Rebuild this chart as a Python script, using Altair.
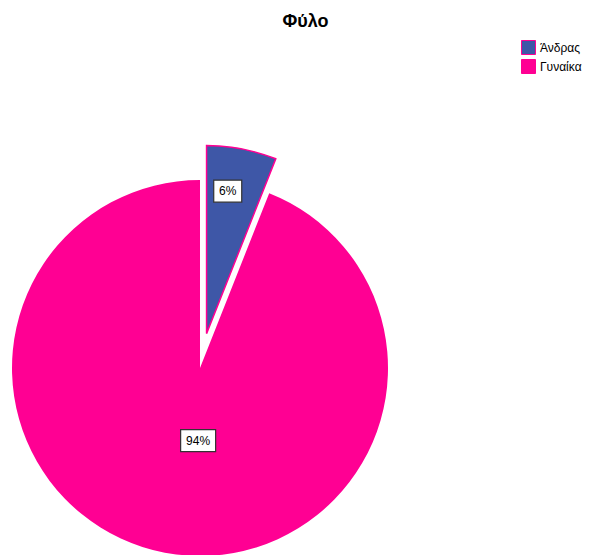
import altair as alt
import pandas as pd

categories = ["Άνδρας", "Γυναίκα"]
values = [6, 94]
order = [0, 1]
colors = ["#3E57A7", "#FF0093"]

df = pd.DataFrame({"cat": categories, "val": values, "ord": order})

CX, CY, R = 192, 333, 188
EXPLODE = 35
FONT = "Liberation Sans"

base = (
    alt.Chart(df)
    .transform_joinaggregate(total="sum(val)")
    .transform_window(cum="sum(val)", sort=[alt.SortField("ord")], frame=[None, 0])
    .transform_calculate(
        start="2*PI*(datum.cum - datum.val)/datum.total",
        end="2*PI*datum.cum/datum.total",
        mid="PI*(2*datum.cum - datum.val)/datum.total",
        pct="format(datum.val/datum.total, '.0%')",
    )
)

color = alt.Color(
    "cat:N",
    scale=alt.Scale(domain=categories, range=colors),
    legend=alt.Legend(
        title=None,
        orient="none",
        legendX=513,
        legendY=5,
        symbolType="square",
        symbolSize=196,
        symbolStrokeColor="#FF0093",
        symbolStrokeWidth=1,
        labelFont=FONT,
        labelFontSize=12,
        labelColor="#000000",
        rowPadding=0,
    ),
)

pink = (
    base.transform_filter(alt.datum.cat == categories[1])
    .mark_arc(outerRadius=R)
    .encode(
        theta=alt.Theta("start:Q", scale=None),
        theta2="end:Q",
        color=color,
        x=alt.value(CX),
        y=alt.value(CY),
    )
)

blue = (
    base.transform_filter(alt.datum.cat == categories[0])
    .transform_calculate(
        px=f"{CX} + {EXPLODE}*sin(datum.mid)",
        py=f"{CY} - {EXPLODE}*cos(datum.mid)",
    )
    .mark_arc(outerRadius=R, stroke="#FF0093", strokeWidth=1.5)
    .encode(
        theta=alt.Theta("start:Q", scale=None),
        theta2="end:Q",
        color=color,
        x=alt.X("px:Q", scale=None, axis=None),
        y=alt.Y("py:Q", scale=None, axis=None),
    )
)


def label_layer(cat, rad, boxw, boxh, explode, xoff):
    ratio = boxh / boxw
    path = f"M-1,-{ratio:.3f}L1,-{ratio:.3f}L1,{ratio:.3f}L-1,{ratio:.3f}Z"
    b = base.transform_filter(alt.datum.cat == cat).transform_calculate(
        lx=f"{CX} + ({explode}+{rad})*sin(datum.mid) + {xoff}",
        ly=f"{CY} - ({explode}+{rad})*cos(datum.mid)",
    )
    enc = dict(
        x=alt.X("lx:Q", scale=None, axis=None),
        y=alt.Y("ly:Q", scale=None, axis=None),
    )
    box = b.mark_point(
        shape=path, size=boxw * boxw, filled=True, fill="white",
        stroke="#333333", strokeWidth=1.2, opacity=1,
    ).encode(**enc)
    txt = b.mark_text(font=FONT, fontSize=12, color="#000000").encode(
        text="pct:N", **enc
    )
    return [box, txt]


layers = [pink, blue]
layers += label_layer(categories[0], 145, 28, 22, EXPLODE, -6)
layers += label_layer(categories[1], 74, 35, 22, 0, 12)

chart = (
    alt.layer(*layers)
    .properties(
        width=579,
        height=560,
        padding={"top": 5, "left": 0, "right": 0, "bottom": 0},
        title=alt.TitleParams(
            "Φύλο", font=FONT, fontSize=18, fontWeight="bold", color="#000000",
            anchor="middle", dx=8,
        ),
    )
    .configure_view(strokeWidth=0)
)

chart.save("out.html", embed_options={"renderer": "svg", "actions": False})
